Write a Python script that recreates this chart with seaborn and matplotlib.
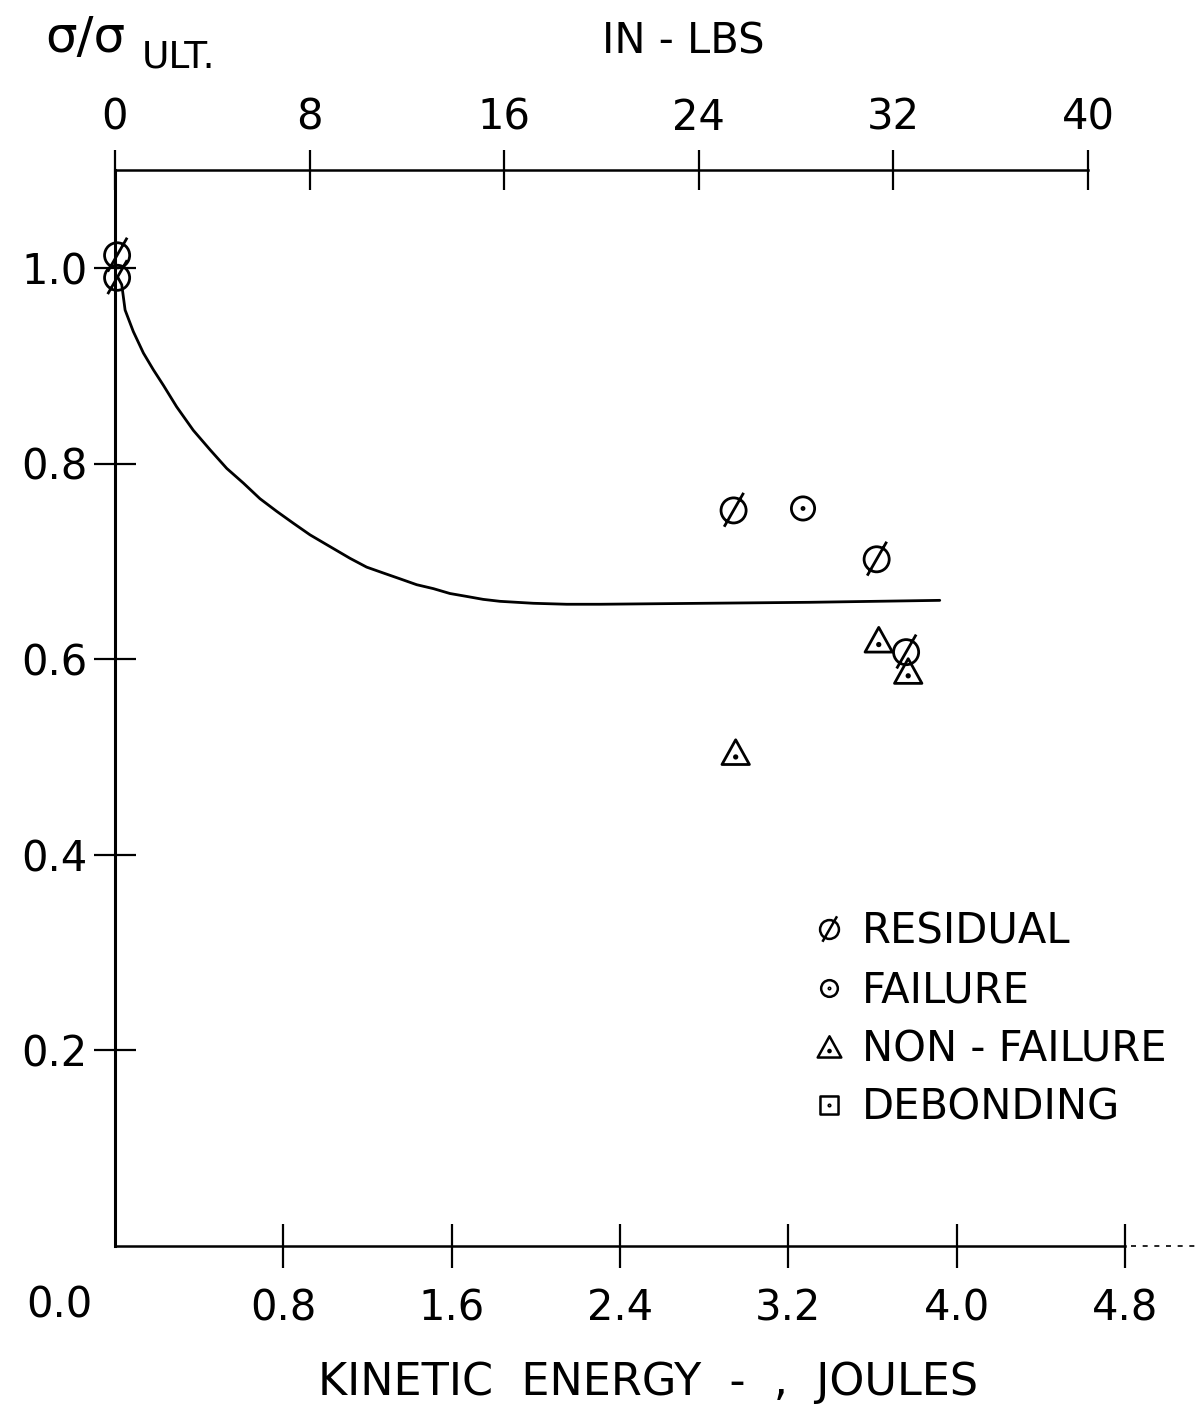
import numpy as np
import pandas as pd
import matplotlib
matplotlib.use("Agg")
import matplotlib.pyplot as plt
from matplotlib.path import Path
from matplotlib.lines import Line2D
import seaborn as sns

# Retained strength ratio vs impact kinetic energy (joules)
curve_energy = [0.012, 0.032, 0.048, 0.087, 0.135, 0.182, 0.230, 0.293, 0.372, 0.452,
                0.531, 0.610, 0.689, 0.769, 0.847, 0.927, 1.006, 1.117, 1.196, 1.275,
                1.355, 1.434, 1.513, 1.592, 1.672, 1.750, 1.830, 1.988, 2.147, 2.305,
                2.800, 3.300, 3.920]
curve_ratio = [0.991, 0.983, 0.957, 0.935, 0.913, 0.896, 0.880, 0.858, 0.834, 0.814,
               0.795, 0.780, 0.764, 0.751, 0.739, 0.727, 0.717, 0.703, 0.694, 0.688,
               0.682, 0.676, 0.672, 0.667, 0.664, 0.661, 0.659, 0.657, 0.656, 0.656,
               0.657, 0.658, 0.660]

residual_energy = [0.01, 0.01, 2.94, 3.62, 3.76]
residual_ratio = [1.013, 0.990, 0.752, 0.702, 0.607]
failure_energy = [3.27]
failure_ratio = [0.754]
nonfailure_energy = [2.95, 3.63, 3.77]
nonfailure_ratio = [0.504, 0.619, 0.587]

joule_ticks = [0.8, 1.6, 2.4, 3.2, 4.0, 4.8]
inlb_ticks = [0, 8, 16, 24, 32, 40]
ratio_ticks = [0.2, 0.4, 0.6, 0.8, 1.0]
legend_labels = ["RESIDUAL", "FAILURE", "NON - FAILURE", "DEBONDING"]
INLB_PER_JOULE = 8.65

sns.set_theme(style="ticks", rc={
    "axes.edgecolor": "black", "xtick.color": "black", "ytick.color": "black",
    "text.color": "black", "axes.labelcolor": "black",
})
plt.rcParams["font.family"] = ["DejaVu Sans"]

W, H = 1203, 1410
fig = plt.figure(figsize=(W / 100, H / 100), dpi=100)

x0_px, y0_px = 115, 1245.5
px_per_joule, px_per_ratio = 210.4, 977.5
xmax, ymax = 5.0, 1.1
ax = fig.add_axes([x0_px / W, (H - y0_px) / H,
                   xmax * px_per_joule / W, ymax * px_per_ratio / H])
ax.set_xlim(0, xmax)
ax.set_ylim(0, ymax)

# --- marker shapes: outline with centre dot or slash ---
def compound(*paths):
    return Path.make_compound_path(*paths)

dot = Path.circle((0, 0), 0.09)
slash = Path([(-0.75, -1.3), (0.8, 1.4)], [Path.MOVETO, Path.LINETO])
tri = Path([(-1, -0.85), (1, -0.85), (0, 0.95), (-1, -0.85)],
           [Path.MOVETO, Path.LINETO, Path.LINETO, Path.CLOSEPOLY])
tri_dot = Path.circle((0, -0.3), 0.09)
square = Path([(-1, -1), (1, -1), (1, 1), (-1, 1), (-1, -1)],
              [Path.MOVETO, Path.LINETO, Path.LINETO, Path.LINETO, Path.CLOSEPOLY])

m_residual = compound(Path.unit_circle(), slash)
m_failure = compound(Path.unit_circle(), dot)
m_nonfail = compound(tri, tri_dot)
m_debond = compound(square, dot)

# --- curve ---
curve = pd.DataFrame({"energy": curve_energy, "ratio": curve_ratio})
sns.lineplot(data=curve, x="energy", y="ratio", ax=ax, color="black",
             linewidth=2.0, estimator=None, sort=False)

# --- test points ---
def points(xs, ys, marker, size):
    sns.scatterplot(x=xs, y=ys, ax=ax, marker=marker, s=size, color="black",
                    facecolor="none", edgecolor="black", linewidth=2.0,
                    zorder=3, legend=False, clip_on=False)

points(residual_energy, residual_ratio, m_residual, 640)
points(failure_energy, failure_ratio, m_failure, 280)
points(nonfailure_energy, nonfailure_ratio, m_nonfail, 390)

# --- axes styling ---
for side in ("top", "right"):
    ax.spines[side].set_visible(False)
ax.spines["left"].set_linewidth(2.2)
ax.spines["bottom"].set_linewidth(1.8)
ax.spines["bottom"].set_bounds(0, 4.8)
ax.plot([4.83, 5.15], [0, 0], color="black", lw=1.2, ls=(0, (3, 4)), clip_on=False)

ax.set_xticks(joule_ticks)
ax.set_xticklabels([f"{t:.1f}" for t in joule_ticks])
ax.set_yticks(ratio_ticks)
ax.set_yticklabels([f"{t:.1f}" for t in ratio_ticks])
ax.tick_params(axis="y", direction="inout", length=30, width=1.6, pad=5, labelsize=30)
ax.tick_params(axis="x", direction="inout", length=32, width=1.6, pad=14, labelsize=30)
ax.set_xlabel("")
ax.set_ylabel("")
ax.annotate("0.0", xy=(0, 0), xycoords="data", xytext=(-40, -43),
            textcoords="offset points", ha="center", va="center", fontsize=30)

# --- top scale in inch-pounds ---
top = ax.twiny()
top.set_xlim(0, xmax * INLB_PER_JOULE)
for side in ("left", "right", "bottom"):
    top.spines[side].set_visible(False)
top.spines["top"].set_linewidth(1.8)
top.spines["top"].set_bounds(0, 40)
top.set_xticks(inlb_ticks)
top.set_xticklabels([str(t) for t in inlb_ticks])
top.tick_params(axis="x", direction="inout", length=29, width=1.6, pad=8,
                labelsize=30, top=True, bottom=False, labeltop=True, labelbottom=False)

# --- legend ---
handles = [
    Line2D([], [], marker=m_residual, ls="none", mfc="none", mec="black", mew=1.8, ms=19),
    Line2D([], [], marker=m_failure, ls="none", mfc="none", mec="black", mew=1.8, ms=12),
    Line2D([], [], marker=m_nonfail, ls="none", mfc="none", mec="black", mew=1.8, ms=17),
    Line2D([], [], marker=m_debond, ls="none", mfc="none", mec="black", mew=1.8, ms=13),
]
ax.legend(handles, legend_labels, frameon=False, loc="upper left",
          bbox_to_anchor=(808 / W, 1 - 911 / H), bbox_transform=fig.transFigure,
          fontsize=30, handlelength=1.0, handletextpad=0.3, labelspacing=0.4,
          borderpad=0, borderaxespad=0)

# --- titles ---
fig.text(45 / W, 1 - 52 / H, "σ/σ", fontsize=36, va="baseline")
fig.text(142 / W, 1 - 68 / H, "ULT.", fontsize=27, va="baseline")
fig.text(683 / W, 1 - 42 / H, "IN - LBS", ha="center", va="center", fontsize=30)
fig.text(648 / W, 1 - 1383 / H, "KINETIC  ENERGY  -  ,  JOULES", ha="center",
         va="center", fontsize=32)

fig.savefig("out.png", dpi=100)
